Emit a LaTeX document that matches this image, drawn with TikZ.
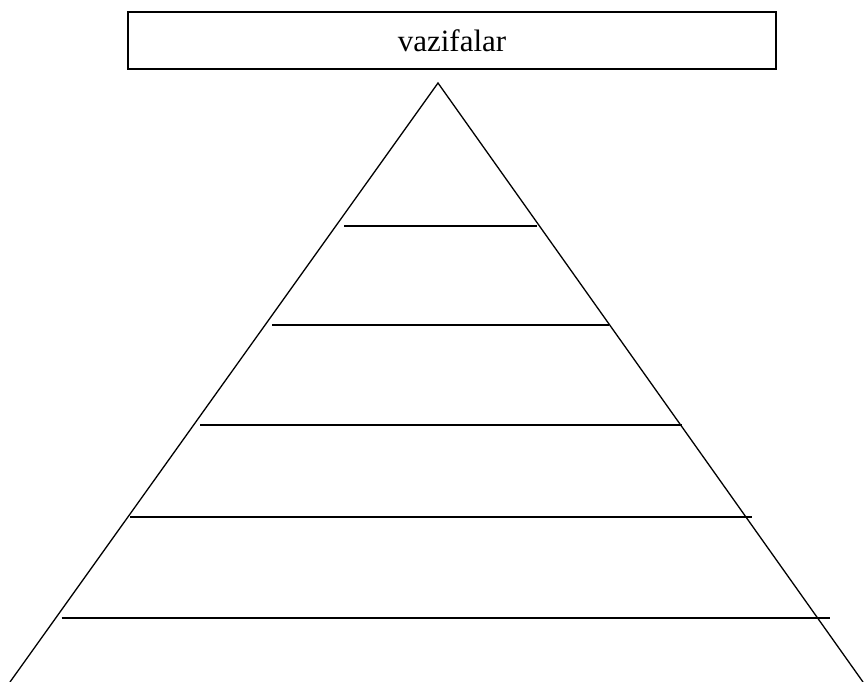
\documentclass[tikz,border=0pt]{standalone}
\usepackage{fontspec}
\setmainfont{Liberation Serif}
\begin{document}
\begin{tikzpicture}[x=1pt,y=-1pt,
  stroke/.style={line width=1.3pt,black},
  layer/.style={line width=2pt,black},
  titlebox/.style={draw,line width=1.4pt,minimum width=648pt,minimum height=57pt,inner sep=0pt,font=\fontsize{31}{36}\selectfont}]
\useasboundingbox (0,0) rectangle (864,681);
\node[titlebox] (title) at (452,40.5) {vazifalar};
\coordinate (apex) at (438,83);
\coordinate (bl) at (10,682);
\coordinate (br) at (863,682);
\draw[stroke] (bl) -- (apex) -- (br);
\coordinate (a1) at (344,226); \coordinate (b1) at (537,226);
\coordinate (a2) at (272,325); \coordinate (b2) at (609,325);
\coordinate (a3) at (200,425); \coordinate (b3) at (681.5,425);
\coordinate (a4) at (129.5,517); \coordinate (b4) at (752,517);
\coordinate (a5) at (61.5,618); \coordinate (b5) at (830,618);
\foreach \i in {1,...,5} {\draw[layer] (a\i) -- (b\i);}
\end{tikzpicture}
\end{document}
